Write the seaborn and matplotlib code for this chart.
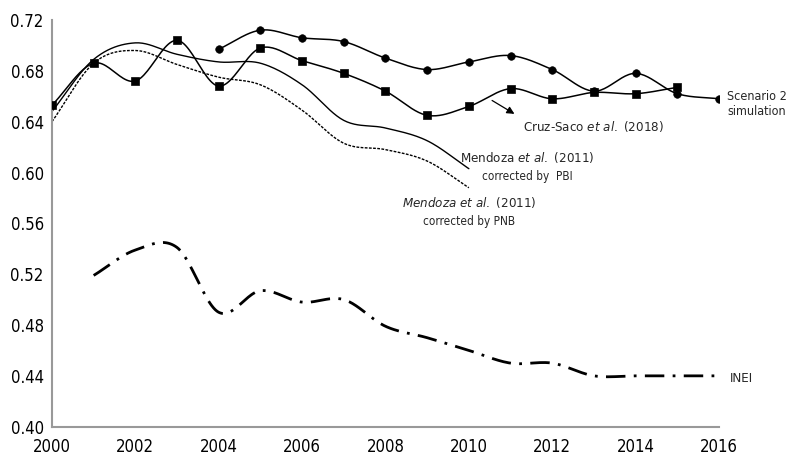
import matplotlib
matplotlib.use("Agg")
import matplotlib.pyplot as plt
import numpy as np
import pandas as pd
import seaborn as sns
from matplotlib import font_manager

# values
years_scen = [2004, 2005, 2006, 2007, 2008, 2009, 2010, 2011, 2012, 2013, 2014, 2015, 2016]
scenario2 = [0.697, 0.712, 0.706, 0.703, 0.690, 0.681, 0.687, 0.692, 0.681, 0.664, 0.678, 0.662, 0.658]

years_cruz = list(range(2000, 2016))
cruz_saco = [0.653, 0.686, 0.672, 0.704, 0.668, 0.698, 0.688, 0.678, 0.664, 0.645,
             0.652, 0.666, 0.658, 0.663, 0.662, 0.667]

years_mend = list(range(2000, 2011))
mendoza_pbi = [0.648, 0.689, 0.702, 0.693, 0.687, 0.686, 0.669, 0.641, 0.635, 0.625, 0.603]
mendoza_pnb = [0.640, 0.686, 0.696, 0.685, 0.675, 0.669, 0.649, 0.623, 0.618, 0.609, 0.588]

years_inei = list(range(2001, 2017))
inei = [0.519, 0.539, 0.541, 0.490, 0.507, 0.498, 0.500, 0.479, 0.470, 0.460, 0.450,
        0.450, 0.440, 0.440, 0.440, 0.440]


def smooth(x, y, n=24):
    # Catmull-Rom curve through the points, like a "smoothed line" chart
    x = np.asarray(x, float)
    y = np.asarray(y, float)
    px = np.concatenate([[2 * x[0] - x[1]], x, [2 * x[-1] - x[-2]]])
    py = np.concatenate([[2 * y[0] - y[1]], y, [2 * y[-1] - y[-2]]])
    xs, ys = [], []
    t = np.linspace(0, 1, n, endpoint=False)
    for i in range(1, len(px) - 2):
        for p, out in ((px, xs), (py, ys)):
            p0, p1, p2, p3 = p[i - 1], p[i], p[i + 1], p[i + 2]
            out.append(0.5 * (2 * p1 + (-p0 + p2) * t
                              + (2 * p0 - 5 * p1 + 4 * p2 - p3) * t ** 2
                              + (-p0 + 3 * p1 - 3 * p2 + p3) * t ** 3))
    xs.append([x[-1]])
    ys.append([y[-1]])
    return pd.DataFrame({"year": np.concatenate(xs), "value": np.concatenate(ys)})


names = {f.name for f in font_manager.fontManager.ttflist}
narrow = [n for n in ["Liberation Sans Narrow", "DejaVu Sans Condensed"] if n in names]

sns.set_style("white")
plt.rcParams["font.family"] = narrow + ["DejaVu Sans"]
plt.rcParams["font.stretch"] = "condensed"
plt.rcParams["mathtext.fontset"] = "custom"
base = (narrow + ["DejaVu Sans"])[0]
plt.rcParams["mathtext.it"] = base + ":italic"
plt.rcParams["mathtext.rm"] = base

fig = plt.figure(figsize=(7.91, 4.65), dpi=100)
ax = fig.add_axes([0.0657, 0.0824, 0.8433, 0.8746])

sns.lineplot(data=smooth(years_mend, mendoza_pbi), x="year", y="value", ax=ax,
             color="black", lw=1.0, sort=False)
sns.lineplot(data=smooth(years_mend, mendoza_pnb), x="year", y="value", ax=ax,
             color="black", lw=1.0, sort=False, linestyle=(0, (2, 1)))
sns.lineplot(data=smooth(years_cruz, cruz_saco), x="year", y="value", ax=ax,
             color="black", lw=1.1, sort=False)
sns.lineplot(data=smooth(years_scen, scenario2), x="year", y="value", ax=ax,
             color="black", lw=1.1, sort=False)
sns.lineplot(data=smooth(years_inei, inei), x="year", y="value", ax=ax,
             color="black", lw=2.0, sort=False, linestyle=(0, (7, 3, 1, 3)))

sns.scatterplot(x=years_cruz, y=cruz_saco, ax=ax, marker="s", s=36, color="black",
                edgecolor="black", zorder=5)
sns.scatterplot(x=years_scen, y=scenario2, ax=ax, marker="o", s=30, color="black",
                edgecolor="black", zorder=5)

ax.set_xlim(2000, 2016)
ax.set_ylim(0.40, 0.72)
ax.set_xticks(range(2000, 2017, 2))
ax.set_yticks(np.arange(0.40, 0.721, 0.04))
ax.set_yticklabels([f"{v:.2f}" for v in np.arange(0.40, 0.721, 0.04)])
ax.set_xlabel("")
ax.set_ylabel("")
for side in ["top", "right"]:
    ax.spines[side].set_visible(False)
for side in ["left", "bottom"]:
    ax.spines[side].set_color("#999999")
    ax.spines[side].set_linewidth(1.5)
ax.tick_params(axis="both", direction="out", length=4, width=1.2, color="#999999",
               labelsize=12, labelcolor="black", pad=2)
ax.tick_params(axis="x", pad=4)

ax.text(2016.2, 0.654, "Scenario 2\nsimulation", fontsize=9, va="center", ha="left",
        linespacing=1.15)
ax.annotate("", xy=(2011.15, 0.645), xytext=(2010.5, 0.6578),
            arrowprops=dict(arrowstyle="-|>", color="black", lw=0.9, mutation_scale=11))
ax.text(2011.3, 0.6365, r"Cruz-Saco $\it{et\ al.}$ (2018)", fontsize=9.5, va="center",
        ha="left")
ax.text(2011.4, 0.612, r"Mendoza $\it{et\ al.}$ (2011)", fontsize=9.5, va="center",
        ha="center")
ax.text(2011.4, 0.5965, "corrected by  PBI", fontsize=8.5, va="center", ha="center")
ax.text(2010.0, 0.5767, r"$\it{Mendoza\ et\ al.}$ (2011)", fontsize=9.5, va="center",
        ha="center")
ax.text(2010.0, 0.5618, "corrected by PNB", fontsize=8.5, va="center", ha="center")
ax.text(2016.25, 0.438, "INEI", fontsize=9.5, va="center", ha="left")

fig.savefig("out.png", dpi=100)
